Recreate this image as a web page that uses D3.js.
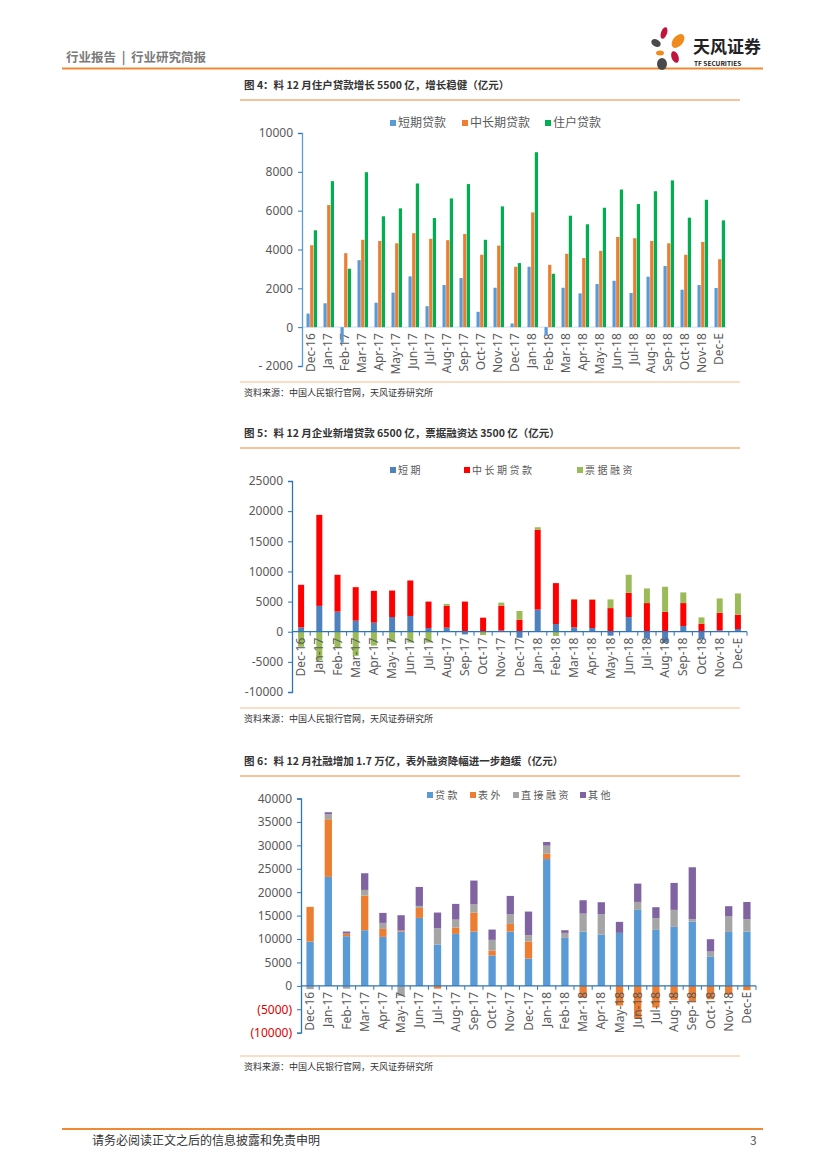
<!DOCTYPE html>
<html>
<head>
<meta charset="utf-8">
<script src="https://cdnjs.cloudflare.com/ajax/libs/d3/7.8.5/d3.min.js"></script>
<style>
  body { margin: 0; background: #fff; }
  svg { display: block; font-family: "Noto Sans CJK SC", "Noto Sans", sans-serif; }
</style>
</head>
<body>
<div id="page"></div>
<script>
var months = ['Dec-16', 'Jan-17', 'Feb-17', 'Mar-17', 'Apr-17', 'May-17', 'Jun-17', 'Jul-17', 'Aug-17',
  'Sep-17', 'Oct-17', 'Nov-17', 'Dec-17', 'Jan-18', 'Feb-18', 'Mar-18', 'Apr-18', 'May-18', 'Jun-18',
  'Jul-18', 'Aug-18', 'Sep-18', 'Oct-18', 'Nov-18', 'Dec-E'];

// fig 4: household / short / long loans
var fig4Names = ['短期贷款', '中长期贷款', '住户贷款'];
var fig4Short = [700, 1230, -800, 3450, 1260, 1780, 2615, 1080, 2170, 2530, 790, 2030, 190,
  3110, -430, 2030, 1740, 2220, 2390, 1760, 2600, 3150, 1930, 2170, 2020];
var fig4Long = [4220, 6290, 3810, 4500, 4440, 4320, 4840, 4550, 4480, 4800, 3730, 4200, 3110,
  5910, 3210, 3780, 3560, 3930, 4650, 4580, 4440, 4320, 3730, 4390, 3500];
var fig4House = [4990, 7520, 3010, 7980, 5710, 6120, 7400, 5620, 6630, 7370, 4500, 6220, 3300,
  9010, 2750, 5740, 5300, 6150, 7090, 6340, 7000, 7560, 5640, 6560, 5500];
var fig4Ticks = [-2000, 0, 2000, 4000, 6000, 8000, 10000];

// fig 5: corporate loans
var fig5Names = ['短期', '中长期贷款', '票据融资'];
var fig5Short = [720, 4280, 3330, 1830, 1500, 2440, 2610, 610, 670, -450, 50, 200, -1000,
  3670, 1280, 720, 610, -660, 2430, -1160, -1820, 940, -1220, 220, 450];
var fig5Long = [7060, 15100, 6110, 5560, 5280, 4390, 5890, 4390, 3610, 5000, 2280, 4130, 2000,
  13260, 6780, 4640, 4690, 3920, 4030, 4750, 3310, 3810, 1330, 2930, 2370];
var fig5Bill = [-2500, -4700, -2700, -4000, -2300, -1700, -1800, -1800, 330, 0, -550, 500, 1440,
  400, -700, 80, 100, 1440, 2990, 2430, 4150, 1770, 1050, 2370, 3530];
var fig5Ticks = [-10000, -5000, 0, 5000, 10000, 15000, 20000, 25000];

// fig 6: total social financing
var fig6Names = ['贷款', '表外', '直接融资', '其他'];
var fig6Loan = [9460, 23260, 10600, 11880, 10460, 11590, 14510, 8820, 11100, 11590, 6470, 11590, 5830,
  27070, 10240, 11590, 10950, 11310, 16220, 11950, 12590, 13730, 6190, 11520, 11590];
var fig6Off = [7400, 12310, 570, 7390, 1700, 220, 2130, -600, 1350, 4060, 1070, 1640, 3630,
  1140, 0, -2500, 0, -4200, -7000, -4620, -3000, -3340, -2850, -1900, -920];
var fig6Direct = [-700, 1070, -600, 1210, 1280, -2130, 430, 3480, 1700, 1780, 2280, 2060, 1350,
  1720, 1070, 3840, 4340, 0, 1700, 2490, 3630, 500, 1140, 3300, 2620];
var fig6Other = [0, 430, 430, 3560, 2140, 3270, 4050, 3350, 3350, 5050, 2200, 3910, 5050,
  780, 570, 2850, 2560, 2350, 3910, 2350, 5760, 11090, 2630, 2190, 3700];
var fig6Ticks = [-10000, -5000, 0, 5000, 10000, 15000, 20000, 25000, 30000, 35000, 40000];

var W = 827, H = 1169;
var svg = d3.select('#page').append('svg').attr('width', W).attr('height', H);

var orange = '#EE8A34', paleOrange = '#F6BE8A', axisBlue = '#2E75B6', textGrey = '#595959';

/* page header */
svg.append('text').attr('x', 66).attr('y', 62).attr('font-size', 12.5).attr('font-weight', 'bold')
  .attr('fill', '#7a7a7a').attr('xml:space', 'preserve').text('行业报告  |  行业研究简报');
svg.append('line').attr('x1', 62).attr('x2', 763).attr('y1', 68.5).attr('y2', 68.5)
  .attr('stroke', orange).attr('stroke-width', 2);

// logo
var logo = svg.append('g').attr('transform', 'translate(668,46)');
logo.append('ellipse').attr('cx', -4).attr('cy', -13).attr('rx', 3).attr('ry', 6)
  .attr('transform', 'rotate(20,-4,-13)').attr('fill', '#C0143C');
logo.append('ellipse').attr('cx', -12).attr('cy', -3).attr('rx', 5).attr('ry', 3.5)
  .attr('transform', 'rotate(30,-12,-3)').attr('fill', '#4a4a4a');
logo.append('ellipse').attr('cx', 10).attr('cy', -5).attr('rx', 5).attr('ry', 8)
  .attr('transform', 'rotate(40,10,-5)').attr('fill', '#F08A1C');
logo.append('ellipse').attr('cx', -8).attr('cy', 7).attr('rx', 4).attr('ry', 2.5)
  .attr('fill', '#F08A1C');
logo.append('ellipse').attr('cx', 7).attr('cy', 11).attr('rx', 3.5).attr('ry', 6)
  .attr('transform', 'rotate(-20,7,11)').attr('fill', '#C0143C');
logo.append('ellipse').attr('cx', -6).attr('cy', 18).attr('rx', 5).attr('ry', 6)
  .attr('fill', '#4a4a4a');
svg.append('text').attr('x', 693).attr('y', 53).attr('font-size', 17).attr('font-weight', 'bold')
  .attr('fill', '#222').text('天风证券');
svg.append('text').attr('x', 694).attr('y', 66).attr('font-size', 6.5).attr('font-weight', 'bold')
  .attr('fill', '#222').text('TF SECURITIES');

/* footer */
svg.append('line').attr('x1', 62).attr('x2', 763).attr('y1', 1129).attr('y2', 1129)
  .attr('stroke', orange).attr('stroke-width', 2);
svg.append('text').attr('x', 92).attr('y', 1145).attr('font-size', 12).attr('fill', '#333')
  .text('请务必阅读正文之后的信息披露和免责申明');
svg.append('text').attr('x', 750).attr('y', 1145).attr('font-size', 12).attr('fill', '#555').text('3');

function frame(title, titleY, srcY) {
  svg.append('text').attr('x', 244).attr('y', titleY).attr('font-size', 10.5).attr('font-weight', 'bold')
    .attr('fill', '#333').text(title);
  svg.append('line').attr('x1', 240).attr('x2', 740).attr('y1', titleY + 11).attr('y2', titleY + 11)
    .attr('stroke', orange).attr('stroke-width', 1.2);
  svg.append('line').attr('x1', 240).attr('x2', 740).attr('y1', srcY - 11).attr('y2', srcY - 11)
    .attr('stroke', paleOrange).attr('stroke-width', 1);
  svg.append('text').attr('x', 244).attr('y', srcY + 3).attr('font-size', 9).attr('fill', '#333')
    .text('资料来源：中国人民银行官网，天风证券研究所');
}

function legend(items, colors, xs, y, spaced) {
  items.forEach(function(name, i) {
    svg.append('rect').attr('x', xs[i]).attr('y', y - 4).attr('width', 6).attr('height', 6)
      .attr('fill', colors[i]);
    svg.append('text').attr('x', xs[i] + 8).attr('y', y + (spaced ? 2.5 : 3))
      .attr('font-size', spaced ? 10 : 12)
      .attr('letter-spacing', spaced ? 2.5 : 0).attr('fill', textGrey).text(name);
  });
}

function yAxis(y, x0, ticks, fmt, colorFn) {
  var g = svg.append('g').attr('transform', 'translate(' + x0 + ',0)')
    .call(d3.axisLeft(y).tickValues(ticks).tickSize(4).tickFormat(fmt));
  g.select('.domain').attr('stroke', axisBlue).attr('stroke-width', 1.3);
  g.selectAll('.tick line').attr('stroke', axisBlue);
  g.selectAll('.tick text').attr('font-size', 12).attr('font-family', '"Noto Sans", sans-serif')
    .attr('fill', function(d) { return colorFn ? colorFn(d) : textGrey; }).attr('dx', -2);
  return g;
}

function xLabels(x, y0, lineColor, tickDown) {
  var r = x.range();
  svg.append('line').attr('x1', r[0]).attr('x2', r[1]).attr('y1', y0).attr('y2', y0)
    .attr('stroke', lineColor).attr('stroke-width', 1.3);
  if (tickDown) {
    months.forEach(function(m, i) {
      var bx = r[0] + x.step() * (i + 1);
      svg.append('line').attr('x1', bx).attr('x2', bx).attr('y1', y0).attr('y2', y0 + 4)
        .attr('stroke', lineColor).attr('stroke-width', 1);
    });
  }
  months.forEach(function(m) {
    var cx = x(m) + x.bandwidth() / 2;
    svg.append('text').attr('transform', 'translate(' + (cx + 4) + ',' + (y0 + 6) + ') rotate(-90)')
      .attr('text-anchor', 'end').attr('font-size', 12).attr('font-family', '"Noto Sans", sans-serif')
      .attr('fill', textGrey).text(m);
  });
}

/* ---------- fig 4: grouped bars ---------- */
frame('图 4：料 12 月住户贷款增长 5500 亿，增长稳健（亿元）', 89, 393);
var c4 = ['#5B9BD5', '#ED7D31', '#00B050'];
legend(fig4Names, c4, [390, 462, 545], 124, false);

var x4 = d3.scaleBand().domain(months).range([302, 727]);
var y4 = d3.scaleLinear().domain([-2000, 10000]).range([366, 133]);
var inner4 = d3.scaleBand().domain([0, 1, 2]).range([4.5, 15]).paddingInner(0.12);
var fig4Series = [fig4Short, fig4Long, fig4House];

xLabels(x4, y4(0), '#D6E4F2', false);
fig4Series.forEach(function(vals, s) {
  svg.append('g').selectAll('rect').data(vals).join('rect')
    .attr('x', function(d, i) { return x4(months[i]) + inner4(s); })
    .attr('width', inner4.bandwidth())
    .attr('y', function(d) { return y4(Math.max(0, d)); })
    .attr('height', function(d) { return Math.abs(y4(d) - y4(0)); })
    .attr('fill', c4[s]);
});
yAxis(y4, 302, fig4Ticks, function(d) { return d < 0 ? '- ' + Math.abs(d) : d; })
  .select('.domain').attr('stroke', '#5B9BD5');

/* ---------- stacked charts ---------- */
function stacked(series, colors, x, y, barW) {
  var rows = months.map(function(m, i) {
    var o = { m: m };
    series.forEach(function(s, k) { o[k] = s[i]; });
    return o;
  });
  var keys = series.map(function(s, k) { return k; });
  var layers = d3.stack().keys(keys).offset(d3.stackOffsetDiverging)(rows);
  layers.forEach(function(layer, k) {
    svg.append('g').selectAll('rect').data(layer).join('rect')
      .attr('x', function(d) { return x(d.data.m) + (x.bandwidth() - barW) / 2; })
      .attr('width', barW)
      .attr('y', function(d) { return y(d[1]); })
      .attr('height', function(d) { return y(d[0]) - y(d[1]); })
      .attr('fill', colors[k]);
  });
}

/* ---------- fig 5 ---------- */
frame('图 5：料 12 月企业新增贷款 6500 亿，票据融资达 3500 亿（亿元）', 437, 719);
var c5 = ['#4F81BD', '#FF0000', '#9BBB59'];
legend(fig5Names, c5, [390, 464, 577], 471, true);
var x5 = d3.scaleBand().domain(months).range([292, 747]);
var y5 = d3.scaleLinear().domain([-10000, 25000]).range([692, 481]);
stacked([fig5Short, fig5Long, fig5Bill], c5, x5, y5, 6);
xLabels(x5, y5(0), axisBlue, true);
yAxis(y5, 292, fig5Ticks, function(d) { return d; });

/* ---------- fig 6 ---------- */
frame('图 6：料 12 月社融增加 1.7 万亿，表外融资降幅进一步趋缓（亿元）', 765, 1067);
var c6 = ['#5B9BD5', '#ED7D31', '#A5A5A5', '#8064A2'];
legend(fig6Names, c6, [427, 470, 513, 580], 796, true);
var x6 = d3.scaleBand().domain(months).range([301, 756]);
var y6 = d3.scaleLinear().domain([-10000, 40000]).range([1032.7, 798.5]);
stacked([fig6Loan, fig6Off, fig6Direct, fig6Other], c6, x6, y6, 7.3);
xLabels(x6, y6(0), axisBlue, true);
yAxis(y6, 301, fig6Ticks, function(d) { return d < 0 ? '(' + Math.abs(d) + ')' : d; },
  function(d) { return d < 0 ? '#E00000' : textGrey; });
</script>
</body>
</html>
